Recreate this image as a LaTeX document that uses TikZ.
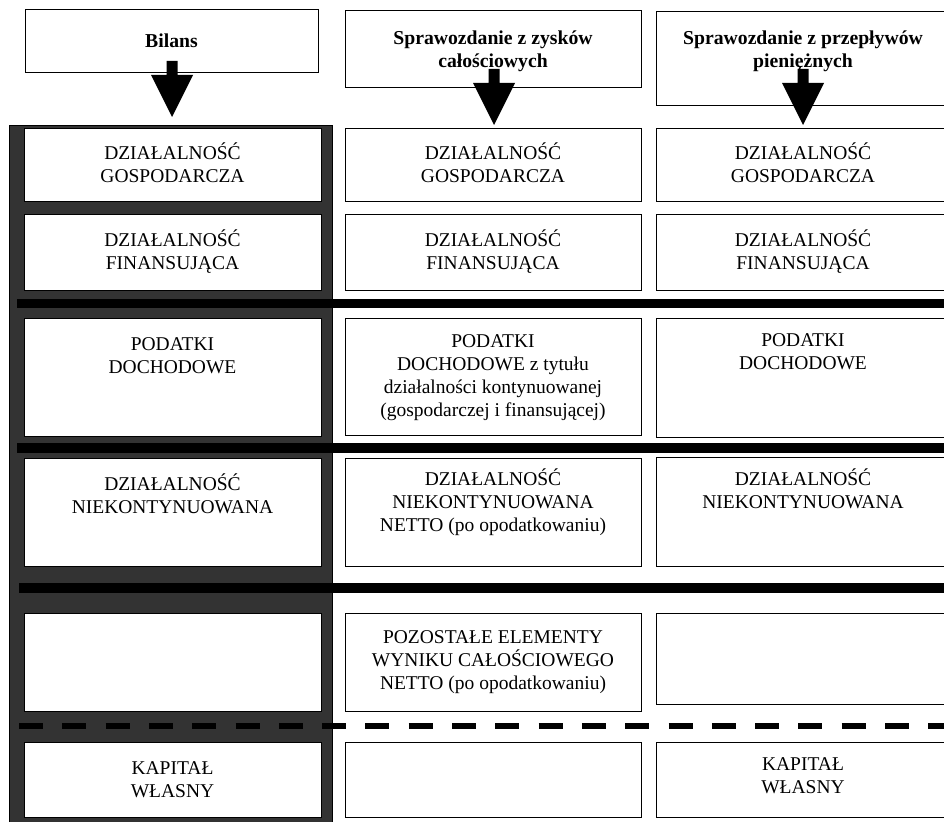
\documentclass[tikz,border=0pt]{standalone}
\usepackage{fontspec}
\setmainfont{Liberation Serif}
\definecolor{darkcol}{HTML}{333333}
\newcommand\fst{\rule{0pt}{18pt}}
\begin{document}
\lineskiplimit=-30pt\relax
\begin{tikzpicture}[x=1pt,y=-1pt,
  box/.style={draw=black, line width=1.3pt, fill=white, inner sep=0pt, anchor=north west},
  txt/.style={inner sep=0pt, anchor=north, align=center, font=\fontsize{19.5}{23}\selectfont},
  head/.style={inner sep=0pt, anchor=north, align=center, font=\bfseries\fontsize{19.7}{23}\selectfont},
  sepline/.style={line width=9.5pt, black},
  sepdash/.style={line width=6pt, black, dash pattern=on 24pt off 19.3pt},
  blockarrow/.style={fill=black}
]
\useasboundingbox (0,0) rectangle (944,821);
\clip (0,0) rectangle (944,821);
\fill[white] (0,0) rectangle (944,821);

% dark column
\node[draw=black, line width=1pt, fill=darkcol, inner sep=0pt, anchor=north west,
      minimum width=323pt, minimum height=720pt] (col) at (9,125) {};

% headers
\node[box, minimum width=293pt, minimum height=63pt] (H1) at (25,9) {};
\node[box, minimum width=296pt, minimum height=77pt] (H2) at (345,10) {};
\node[box, minimum width=294pt, minimum height=94pt] (H3) at (656,11) {};
\node[head] (tH1) at (171.5,29) {\fst Bilans};
\node[head] (tH2) at (493,26) {\fst Sprawozdanie z zysków\\całościowych};
\node[head] (tH3) at (803,26) {\fst Sprawozdanie z przepływów\\pieniężnych};

% block arrows
\fill[blockarrow] (166.5,61) -- (177.5,61) -- (177.5,75) -- (193,75) -- (172,117) -- (151,75) -- (166.5,75) -- cycle;
\fill[blockarrow] (488.5,69) -- (499.5,69) -- (499.5,83) -- (515,83) -- (494,125) -- (473,83) -- (488.5,83) -- cycle;
\fill[blockarrow] (797.5,69) -- (808.5,69) -- (808.5,83) -- (824,83) -- (803,125) -- (782,83) -- (797.5,83) -- cycle;

% row 1
\node[box, minimum width=297pt, minimum height=73pt] (L1) at (24,128) {};
\node[box, minimum width=296pt, minimum height=73pt] (M1) at (345,128) {};
\node[box, minimum width=294pt, minimum height=73pt] (R1) at (656,128) {};
\node[txt] (tL1) at (172.5,141) {\fst DZIAŁALNOŚĆ\\GOSPODARCZA};
\node[txt] (tM1) at (493,141) {\fst DZIAŁALNOŚĆ\\GOSPODARCZA};
\node[txt] (tR1) at (803,141) {\fst DZIAŁALNOŚĆ\\GOSPODARCZA};

% row 2
\node[box, minimum width=297pt, minimum height=76pt] (L2) at (24,214) {};
\node[box, minimum width=296pt, minimum height=76pt] (M2) at (345,214) {};
\node[box, minimum width=294pt, minimum height=76pt] (R2) at (656,214) {};
\node[txt] (tL2) at (172.5,228) {\fst DZIAŁALNOŚĆ\\FINANSUJĄCA};
\node[txt] (tM2) at (493,228) {\fst DZIAŁALNOŚĆ\\FINANSUJĄCA};
\node[txt] (tR2) at (803,228) {\fst DZIAŁALNOŚĆ\\FINANSUJĄCA};

\draw[sepline] (17,303.5) -- (950,303.5);

% row 3
\node[box, minimum width=297pt, minimum height=118pt] (L3) at (24,318) {};
\node[box, minimum width=296pt, minimum height=117pt] (M3) at (345,318) {};
\node[box, minimum width=294pt, minimum height=119pt] (R3) at (656,318) {};
\node[txt] (tL3) at (172.5,332) {\fst PODATKI\\DOCHODOWE};
\node[txt] (tM3) at (493,329) {\fst PODATKI\\ DOCHODOWE z tytułu\\działalności kontynuowanej\\(gospodarczej i finansującej)};
\node[txt] (tR3) at (803,328) {\fst PODATKI\\DOCHODOWE};

\draw[sepline] (17,448) -- (950,448);

% row 4
\node[box, minimum width=297pt, minimum height=108pt] (L4) at (24,458) {};
\node[box, minimum width=296pt, minimum height=108pt] (M4) at (345,458) {};
\node[box, minimum width=294pt, minimum height=109pt] (R4) at (656,457) {};
\node[txt] (tL4) at (172.5,472) {\fst DZIAŁALNOŚĆ\\NIEKONTYNUOWANA};
\node[txt] (tM4) at (493,467) {\fst DZIAŁALNOŚĆ\\NIEKONTYNUOWANA\\NETTO (po opodatkowaniu)};
\node[txt] (tR4) at (803,467) {\fst DZIAŁALNOŚĆ\\NIEKONTYNUOWANA};

\draw[sepline] (19,588) -- (950,588);

% row 5
\node[box, minimum width=297pt, minimum height=98pt] (L5) at (24,613) {};
\node[box, minimum width=296pt, minimum height=98pt] (M5) at (345,613) {};
\node[box, minimum width=294pt, minimum height=91pt] (R5) at (656,613) {};
\node[txt] (tM5) at (493,625) {\fst POZOSTAŁE ELEMENTY\\WYNIKU CAŁOŚCIOWEGO\\NETTO (po opodatkowaniu)};

\draw[sepdash] (19,725.5) -- (950,725.5);

% row 6
\node[box, minimum width=297pt, minimum height=75pt] (L6) at (24,742) {};
\node[box, minimum width=296pt, minimum height=75pt] (M6) at (345,742) {};
\node[box, minimum width=294pt, minimum height=75pt] (R6) at (656,742) {};
\node[txt] (tL6) at (172.5,756) {\fst KAPITAŁ\\WŁASNY};
\node[txt] (tR6) at (803,752) {\fst KAPITAŁ\\WŁASNY};
\end{tikzpicture}
\end{document}
